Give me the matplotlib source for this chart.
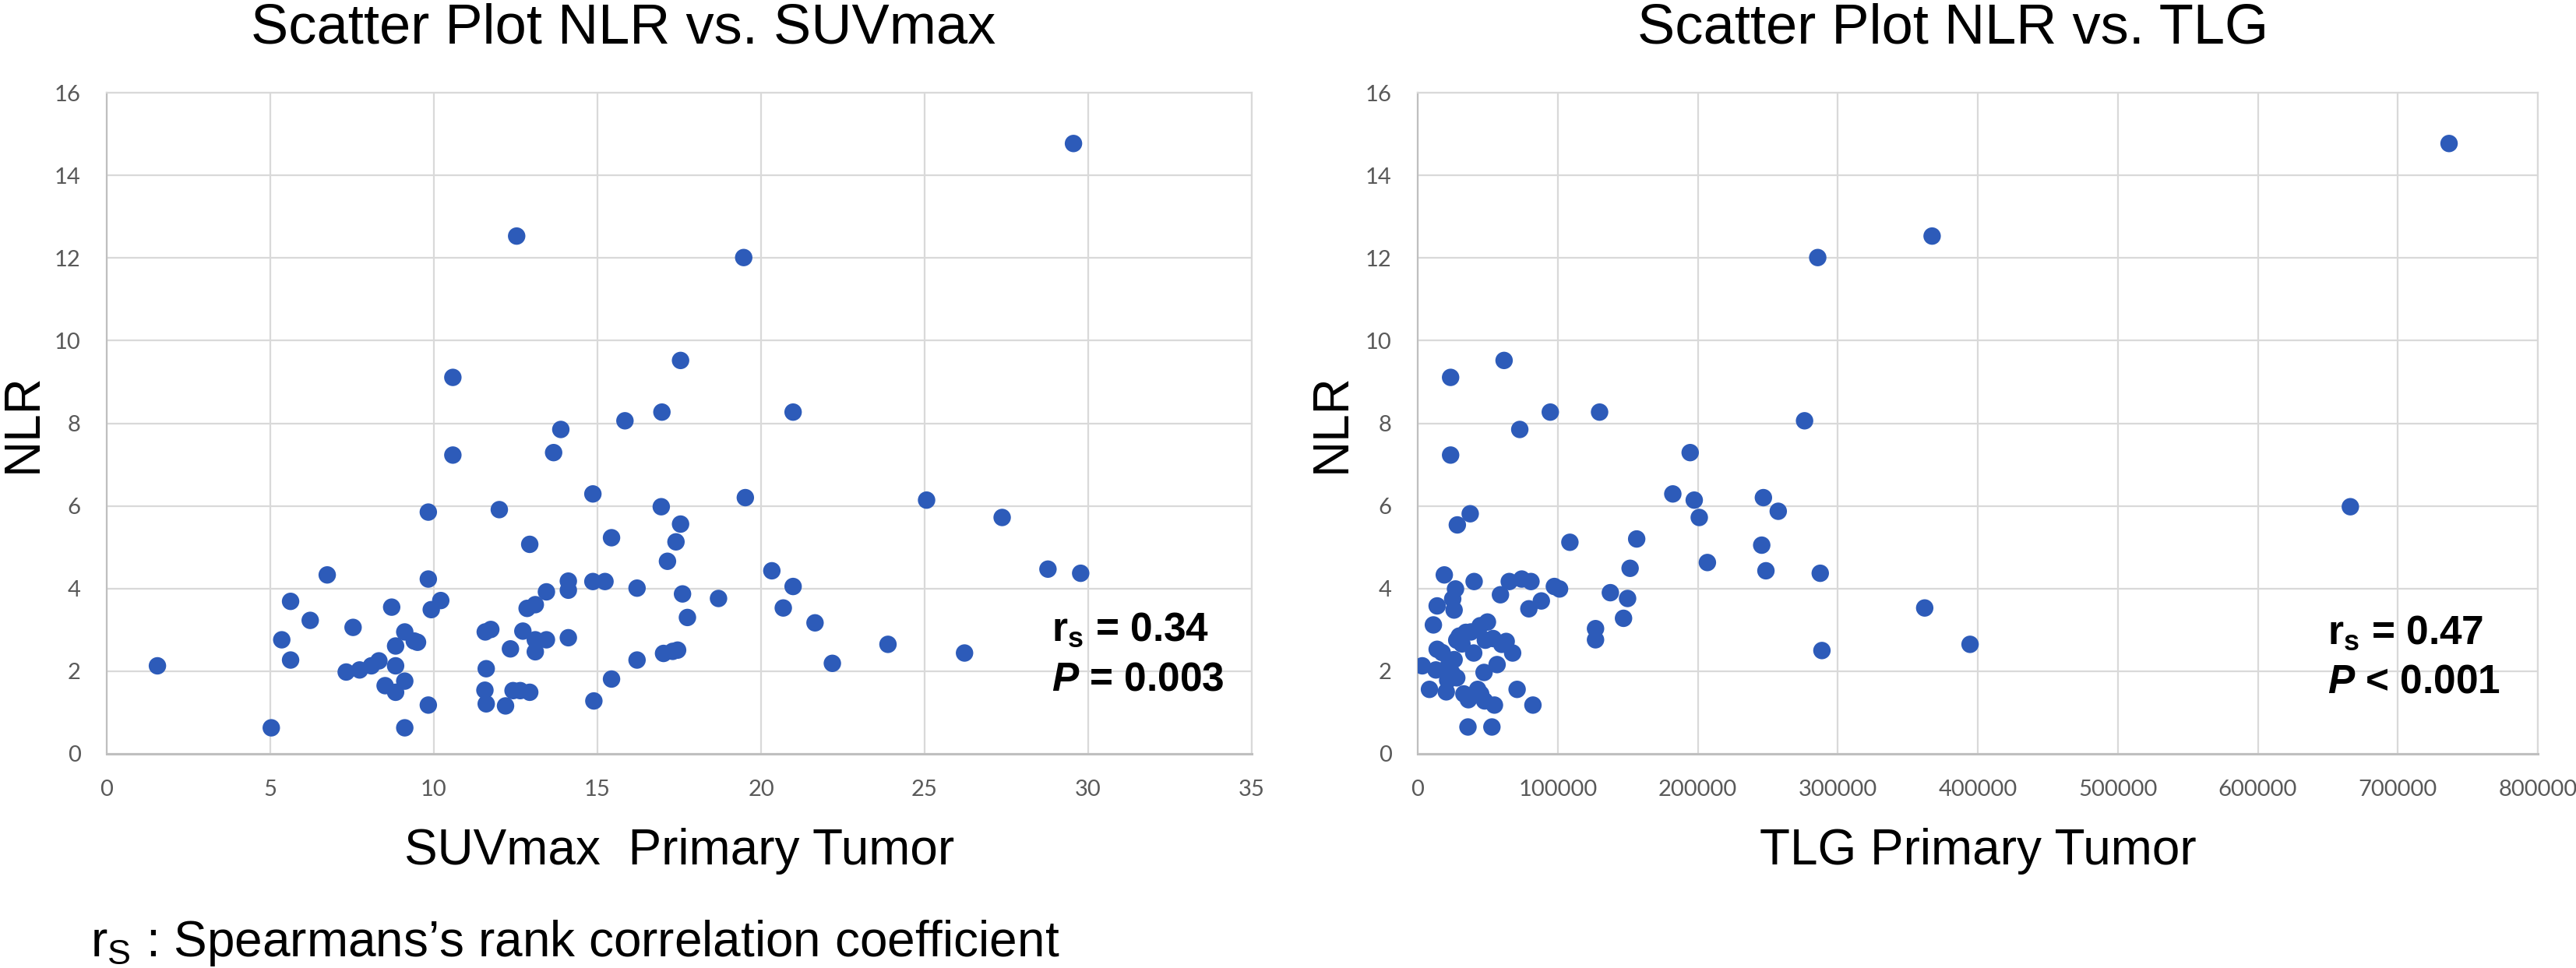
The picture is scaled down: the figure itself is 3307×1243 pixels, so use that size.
import matplotlib
matplotlib.use("Agg")
import matplotlib.pyplot as plt
from matplotlib.ticker import MultipleLocator, FuncFormatter

# -------------------------------------------------------------------
# Data
# -------------------------------------------------------------------
suvmax = [1.55, 5.03, 5.35, 5.62, 5.62, 6.22, 6.74, 7.53, 7.32, 7.73,
          8.09, 8.32, 8.71, 8.83, 8.83, 8.51, 8.83, 9.11, 9.11, 9.11,
          9.40, 9.50, 9.83, 9.83, 9.92, 10.21, 9.83, 10.58, 10.58, 11.57,
          11.74, 11.60, 11.56, 11.60, 12.00, 12.19, 12.34, 12.53, 12.42, 12.64,
          12.93, 12.72, 12.93, 12.85, 13.10, 13.10, 13.10, 13.44, 13.44, 13.66,
          13.88, 14.11, 14.11, 14.11, 14.86, 14.86, 15.23, 14.89, 15.43, 15.43,
          15.84, 16.21, 16.21, 16.97, 16.95, 17.14, 17.40, 17.54, 17.54, 17.60,
          17.75, 17.02, 17.30, 17.45, 18.70, 19.47, 19.52, 20.33, 20.68, 20.98,
          20.98, 21.65, 22.18, 23.88, 25.06, 26.22, 27.37, 28.77, 29.55, 29.77]
nlr_suv = [2.13, 0.63, 2.76, 3.69, 2.27, 3.23, 4.33, 3.06, 1.98, 2.03,
           2.13, 2.25, 3.55, 2.61, 2.13, 1.65, 1.49, 1.76, 0.63, 2.95,
           2.73, 2.70, 5.85, 4.23, 3.49, 3.71, 1.18, 9.11, 7.23, 2.95,
           3.01, 2.06, 1.54, 1.21, 5.91, 1.16, 2.54, 12.53, 1.53, 1.53,
           1.49, 2.97, 5.07, 3.52, 3.61, 2.76, 2.47, 2.76, 3.92, 7.29,
           7.85, 4.18, 3.96, 2.81, 6.29, 4.17, 4.17, 1.28, 5.23, 1.81,
           8.06, 4.01, 2.27, 8.27, 5.98, 4.66, 5.13, 9.52, 5.56, 3.87,
           3.30, 2.43, 2.48, 2.51, 3.76, 12.01, 6.20, 4.43, 3.53, 8.27,
           4.05, 3.17, 2.19, 2.65, 6.14, 2.44, 5.72, 4.47, 14.77, 4.37]

tlg = [736600, 367400, 285700, 276300, 194600, 182200, 197500, 201100, 246900, 257500,
       245700, 248700, 287500, 288700, 362100, 394500, 666100, 206900, 156400, 151700,
       129900, 94700, 72900, 61700, 23500, 23500, 137600, 149900, 147000, 127000,
       127000,
       37500, 28300, 19000, 40300, 27000, 13900, 26000, 11200, 3300, 8400,
       20400, 13900, 13000, 22300, 26000, 27900, 21400, 29700, 34400, 27900,
       31600, 44600, 49800, 40000, 48300, 53900, 63200, 67800, 56700, 47400,
       42800, 36200, 47800, 54800, 71000, 82300, 35900, 53000, 59100, 65400,
       74300, 80900, 79400, 88300, 97600, 101300, 108700,
       17500, 24500, 38000, 33000, 45000, 25000, 60000]
nlr_tlg = [14.77, 12.53, 12.01, 8.06, 7.29, 6.29, 6.14, 5.72, 6.20, 5.87,
           5.05, 4.43, 4.37, 2.50, 3.53, 2.65, 5.98, 4.63, 5.20, 4.49,
           8.27, 8.27, 7.85, 9.52, 9.11, 7.23, 3.90, 3.76, 3.28, 3.03,
           2.76,
           5.81, 5.54, 4.33, 4.17, 3.99, 3.58, 3.48, 3.12, 2.13, 1.56,
           1.50, 2.53, 2.03, 2.16, 2.28, 1.84, 1.78, 2.85, 2.94, 2.75,
           2.66, 3.10, 3.19, 2.44, 2.75, 2.79, 2.72, 2.44, 2.16, 1.97,
           1.56, 1.31, 1.28, 1.18, 1.56, 1.18, 0.65, 0.65, 3.85, 4.17,
           4.23, 4.17, 3.51, 3.70, 4.05, 3.99, 5.12,
           2.45, 1.95, 2.95, 1.45, 1.45, 3.75, 2.65]

# -------------------------------------------------------------------
# Style
# -------------------------------------------------------------------
plt.rcParams['font.family'] = ['Liberation Sans', 'DejaVu Sans']
plt.rcParams['mathtext.fontset'] = 'custom'
plt.rcParams['mathtext.rm'] = 'Liberation Sans'
plt.rcParams['mathtext.bf'] = 'Liberation Sans:bold'
plt.rcParams['mathtext.bfit'] = 'Liberation Sans:bold:italic'

dot_color = '#2D5BB9'
grid_color = '#D9D9D9'
tick_color = '#595959'
tick_font = ['Lato', 'DejaVu Sans']

W, H = 3307, 1243
fig = plt.figure(figsize=(W / 100, H / 100), dpi=100)

ax1 = fig.add_axes([137 / W, 1 - 968 / H, 1470 / W, 849 / H])
ax2 = fig.add_axes([1820 / W, 1 - 968 / H, 1438 / W, 849 / H])


def style_axes(ax):
    ax.set_ylim(0, 16)
    ax.yaxis.set_major_locator(MultipleLocator(2))
    ax.grid(True, color=grid_color, linewidth=1.6)
    ax.set_axisbelow(True)
    for side, sp in ax.spines.items():
        sp.set_color(grid_color)
        sp.set_linewidth(1.6)
    ax.spines['bottom'].set_color('#BFBFBF')
    ax.spines['bottom'].set_linewidth(2.2)
    ax.spines['left'].set_color('#BFBFBF')
    ax.tick_params(length=0, pad=24, labelsize=21, labelcolor=tick_color)
    for lab in ax.get_xticklabels() + ax.get_yticklabels():
        lab.set_family(tick_font)


# --- Left: NLR vs SUVmax ---
ax1.scatter(suvmax, nlr_suv, s=260, color=dot_color, edgecolors='none', zorder=3)
ax1.set_xlim(0, 35)
ax1.xaxis.set_major_locator(MultipleLocator(5))
style_axes(ax1)
ax1.set_xlabel('SUVmax  Primary Tumor', fontsize=46, labelpad=26)
ax1.text(0.825, 0.171, r'$\mathbf{r}_\mathbf{s}$ = 0.34', transform=ax1.transAxes,
         fontsize=37, fontweight='bold', va='baseline', ha='left')
ax1.text(0.825, 0.0956, r'$\mathbfit{P}$ = 0.003', transform=ax1.transAxes,
         fontsize=37, fontweight='bold', va='baseline', ha='left')

# --- Right: NLR vs TLG ---
ax2.scatter(tlg, nlr_tlg, s=260, color=dot_color, edgecolors='none', zorder=3)
ax2.set_xlim(0, 800000)
ax2.xaxis.set_major_locator(MultipleLocator(100000))
ax2.xaxis.set_major_formatter(FuncFormatter(lambda v, p: f'{int(v)}'))
style_axes(ax2)
ax2.set_xlabel('TLG Primary Tumor', fontsize=46, labelpad=26)
ax2.text(0.812, 0.167, r'$\mathbf{r}_\mathbf{s}$ = 0.47', transform=ax2.transAxes,
         fontsize=37, fontweight='bold', va='baseline', ha='left')
ax2.text(0.812, 0.0925, r'$\mathbfit{P}$ < 0.001', transform=ax2.transAxes,
         fontsize=37, fontweight='bold', va='baseline', ha='left')

# y-axis labels placed in figure pixels so the left one is not clipped
ymid = 1 - (968 + 119) / 2 / H
fig.text(30 / W, ymid, 'NLR', fontsize=46, rotation=90, ha='center', va='center')
fig.text(1710 / W, ymid, 'NLR', fontsize=46, rotation=90, ha='center', va='center')

# Titles and footnote
fig.text(800 / W, 1 - 55 / H, 'Scatter Plot NLR vs. SUVmax', fontsize=52,
         ha='center', va='baseline')
fig.text(2507 / W, 1 - 55 / H, 'Scatter Plot NLR vs. TLG', fontsize=52,
         ha='center', va='baseline')
fig.text(116 / W, 1 - 1228 / H, r'r$_\mathrm{S}$ : Spearmans’s rank correlation coefficient',
         fontsize=46, ha='left', va='baseline')

fig.savefig('out.png', dpi=100, facecolor='white')
